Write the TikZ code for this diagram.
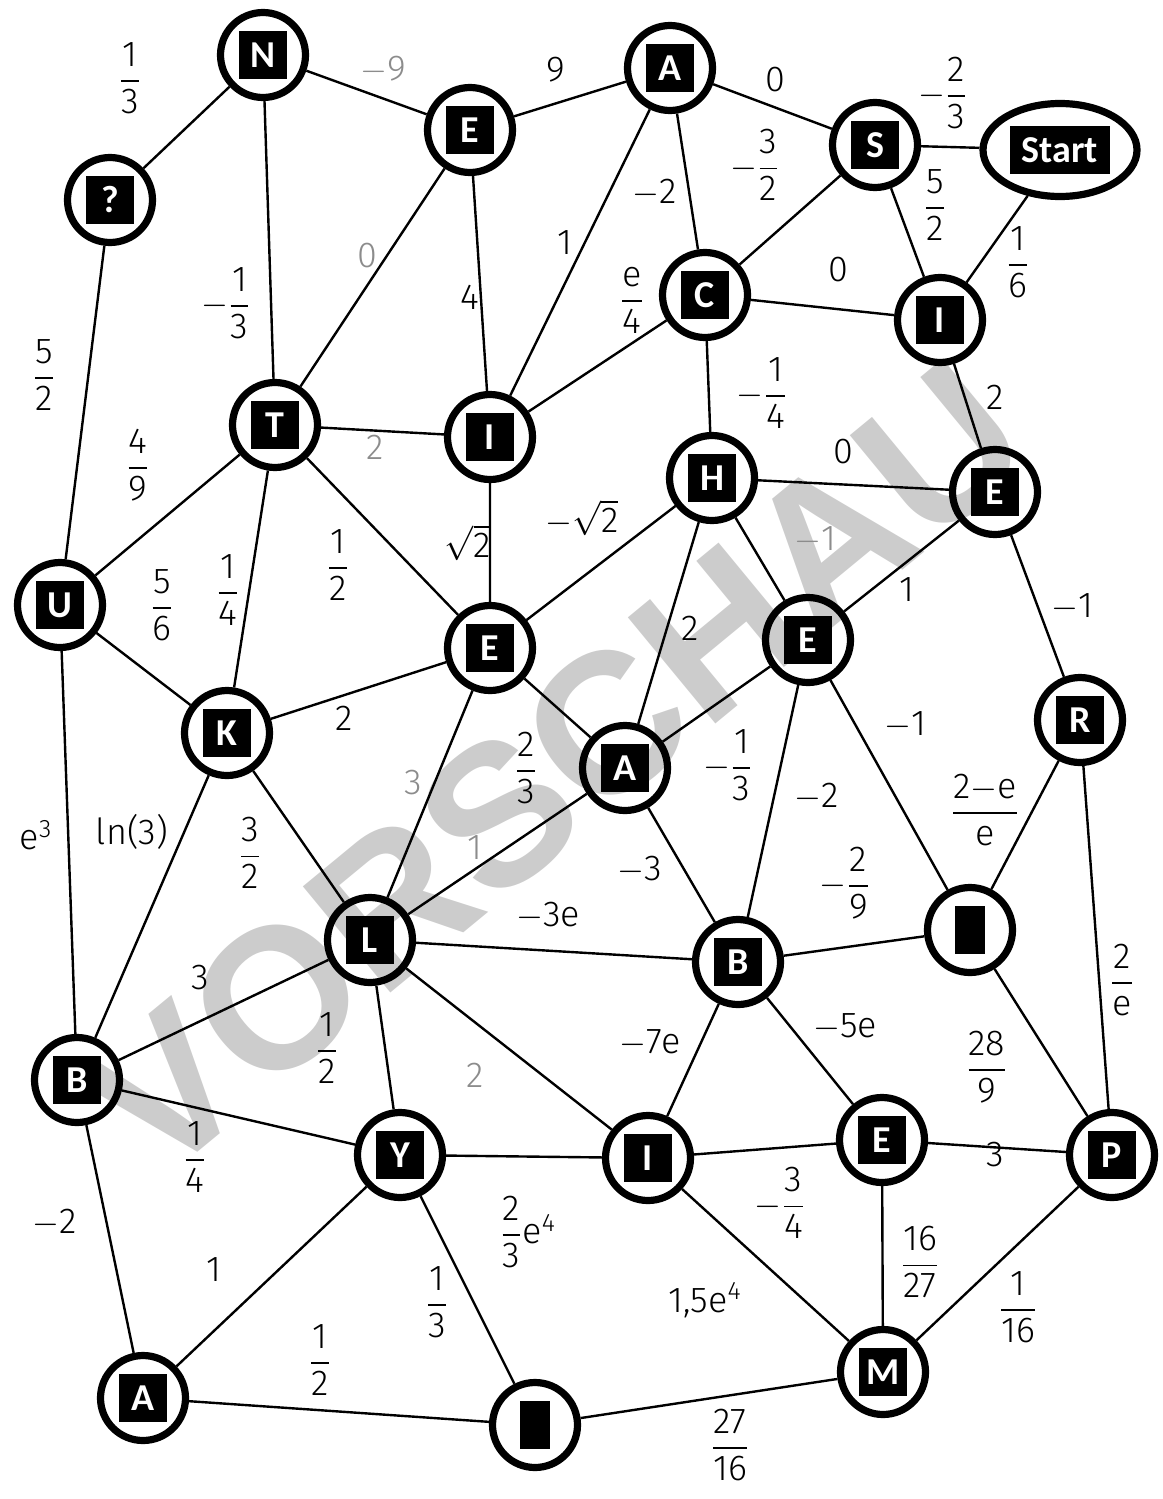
\documentclass[tikz,border=0pt]{standalone}
\usepackage{fontspec}
\usepackage{amsmath}
\setmainfont{Fira Sans Light}
\newfontfamily\nodefont{Carlito}
\newfontfamily\wmfont{Liberation Sans}
\usetikzlibrary{shapes.geometric}
\newcommand{\fr}[2]{\ensuremath{\dfrac{\text{#1}}{\text{#2}}}}
\newcommand{\mi}{\ensuremath{\mathord{-}}}
\newcommand{\sq}[1]{{\setlength{\fboxsep}{0pt}\colorbox{black}{\makebox[24pt]{\rule[-6pt]{0pt}{24pt}\color{white}\nodefont\bfseries\fontsize{19}{19}\selectfont #1}}}}
\newcommand{\sqw}[1]{{\setlength{\fboxsep}{0pt}\colorbox{black}{\makebox[50pt]{\rule[-6pt]{0pt}{24pt}\color{white}\nodefont\bfseries\fontsize{19}{19}\selectfont #1}}}}
\newcommand{\blk}{\rule{15pt}{24pt}}
\tikzset{
  nd/.style={circle, draw, line width=3.6pt, minimum size=42.5pt, inner sep=0pt},
  ed/.style={line width=1.2pt},
  lab/.style={font=\fontsize{18}{20}\selectfont, inner sep=0pt},
  glab/.style={lab, text=black!45},
}
\begin{document}
\begin{tikzpicture}[x=0.5pt,y=-0.5pt]
\useasboundingbox (0,0) rectangle (1162,1499);
\node[rotate=39.5, text=black!20, font=\wmfont\bfseries\fontsize{100}{100}\selectfont] (wm) at (555,768) {VORSCHAU};
% nodes
\node[nd] (N) at (263,55) {\sq{N}};
\node[nd] (Q) at (110,200) {\sq{?}};
\node[nd] (E1) at (470,130) {\sq{E}};
\node[nd] (A1) at (670,68) {\sq{A}};
\node[nd] (S) at (875,145) {\sq{S}};
\node[ellipse, draw, line width=3.6pt, minimum width=77pt, minimum height=46.5pt, inner sep=0pt] (St) at (1060,150) {\sqw{Start}};
\node[nd] (C) at (705,295) {\sq{C}};
\node[nd] (I1) at (940,320) {\sq{I}};
\node[nd] (T) at (275,425) {\sq{T}};
\node[nd] (I2) at (490,437) {\sq{I}};
\node[nd] (H) at (712,478) {\sq{H}};
\node[nd] (E2) at (995,492) {\sq{E}};
\node[nd] (U) at (60,605) {\sq{U}};
\node[nd] (E3) at (490,648) {\sq{E}};
\node[nd] (E4) at (808,640) {\sq{E}};
\node[nd] (K) at (227,733) {\sq{K}};
\node[nd] (A2) at (625,768) {\sq{A}};
\node[nd] (R) at (1080,720) {\sq{R}};
\node[nd] (L) at (370,940) {\sq{L}};
\node[nd] (B1) at (738,962) {\sq{B}};
\node[nd] (X1) at (970,930) {\blk};
\node[nd] (B2) at (77,1080) {\sq{B}};
\node[nd] (Y) at (400,1155) {\sq{Y}};
\node[nd] (I3) at (648,1158) {\sq{I}};
\node[nd] (E5) at (882,1140) {\sq{E}};
\node[nd] (P) at (1112,1155) {\sq{P}};
\node[nd] (A3) at (143,1398) {\sq{A}};
\node[nd] (X2) at (535,1425) {\blk};
\node[nd] (M) at (883,1372) {\sq{M}};
% edges
\draw[ed] (N)--(Q) (N)--(E1) (N)--(T) (E1)--(A1) (E1)--(T) (E1)--(I2)
  (A1)--(S) (A1)--(C) (A1)--(I2) (S)--(St) (S)--(C) (S)--(I1) (St)--(I1)
  (C)--(I1) (C)--(I2) (C)--(H) (Q)--(U) (T)--(I2) (T)--(U) (T)--(K) (T)--(E3)
  (I2)--(E3) (I1)--(E2) (H)--(E2) (H)--(E3) (H)--(A2) (H)--(E4) (E2)--(E4) (E2)--(R)
  (U)--(K) (U)--(B2) (E3)--(K) (E3)--(A2) (E3)--(L) (E4)--(A2) (E4)--(B1) (E4)--(X1)
  (R)--(X1) (R)--(P) (K)--(B2) (K)--(L) (A2)--(L) (A2)--(B1) (L)--(B1) (B1)--(X1)
  (L)--(B2) (L)--(Y) (L)--(I3) (B1)--(I3) (B1)--(E5) (X1)--(P) (B2)--(Y) (B2)--(A3)
  (Y)--(I3) (Y)--(A3) (Y)--(X2) (I3)--(E5) (I3)--(M) (E5)--(P) (E5)--(M) (P)--(M)
  (A3)--(X2) (X2)--(M);
% labels
\node[lab] (l1) at (130,78) {\fr{1}{3}};
\node[glab] (l2) at (383,70) {\mi9};
\node[lab] (l3) at (226,303) {\mi\fr{1}{3}};
\node[lab] (l4) at (556,70) {9};
\node[glab] (l5) at (367,256) {0};
\node[lab] (l6) at (470,297) {4};
\node[lab] (l7) at (775,80) {0};
\node[lab] (l8) at (655,193) {\mi2};
\node[lab] (l9) at (565,243) {1};
\node[lab] (l10) at (943,93) {\mi\fr{2}{3}};
\node[lab] (l11) at (755,165) {\mi\fr{3}{2}};
\node[lab] (l12) at (935,205) {\fr{5}{2}};
\node[lab] (l13) at (1018,262) {\fr{1}{6}};
\node[lab] (l14) at (838,270) {0};
\node[lab] (l15) at (632,300) {\fr{e}{4}};
\node[lab] (l16) at (762,393) {\mi\fr{1}{4}};
\node[lab] (l17) at (44,375) {\fr{5}{2}};
\node[glab] (l18) at (375,447) {2};
\node[lab] (l19) at (138,465) {\fr{4}{9}};
\node[lab] (l20) at (228,590) {\fr{1}{4}};
\node[lab] (l21) at (338,565) {\fr{1}{2}};
\node[lab] (l22) at (468,543) {$\sqrt{\text{2}}$};
\node[lab] (l23) at (995,397) {2};
\node[lab] (l24) at (843,452) {0};
\node[lab] (l25) at (582,518) {\mi$\sqrt{\text{2}}$};
\node[lab] (l26) at (690,628) {2};
\node[glab] (l27) at (815,540) {\mi1};
\node[lab] (l28) at (907,590) {1};
\node[lab] (l29) at (1072,607) {\mi1};
\node[lab] (l30) at (162,605) {\fr{5}{6}};
\node[lab] (l31) at (36,835) {e\textsuperscript{3}};
\node[lab] (l32) at (344,718) {2};
\node[lab] (l33) at (526,768) {\fr{2}{3}};
\node[glab] (l34) at (413,783) {3};
\node[lab] (l35) at (728,765) {\mi\fr{1}{3}};
\node[lab] (l36) at (817,797) {\mi2};
\node[lab] (l37) at (905,725) {\mi1};
\node[lab] (l38) at (985,810) {\fr{2\mi e}{e}};
\node[lab] (l39) at (1122,980) {\fr{2}{e}};
\node[lab] (l40) at (132,832) {ln(3)};
\node[lab] (l41) at (250,853) {\fr{3}{2}};
\node[glab] (l42) at (475,848) {1};
\node[lab] (l43) at (640,870) {\mi3};
\node[lab] (l44) at (548,916) {\mi3e};
\node[lab] (l45) at (845,883) {\mi\fr{2}{9}};
\node[lab] (l46) at (200,978) {3};
\node[lab] (l47) at (327,1048) {\fr{1}{2}};
\node[glab] (l48) at (475,1075) {2};
\node[lab] (l49) at (650,1043) {\mi7e};
\node[lab] (l50) at (845,1027) {\mi5e};
\node[lab] (l51) at (987,1067) {\fr{28}{9}};
\node[lab] (l52) at (195,1157) {\fr{1}{4}};
\node[lab] (l53) at (55,1223) {\mi2};
\node[lab] (l54) at (528,1232) {\fr{2}{3}e\textsuperscript{4}};
\node[lab] (l55) at (214,1270) {1};
\node[lab] (l56) at (437,1302) {\fr{1}{3}};
\node[lab] (l57) at (780,1203) {\mi\fr{3}{4}};
\node[lab] (l58) at (705,1300) {1,5e\textsuperscript{4}};
\node[lab] (l59) at (995,1155) {3};
\node[lab] (l60) at (920,1262) {\fr{16}{27}};
\node[lab] (l61) at (1018,1307) {\fr{1}{16}};
\node[lab] (l62) at (320,1360) {\fr{1}{2}};
\node[lab] (l63) at (730,1445) {\fr{27}{16}};
\end{tikzpicture}
\end{document}
